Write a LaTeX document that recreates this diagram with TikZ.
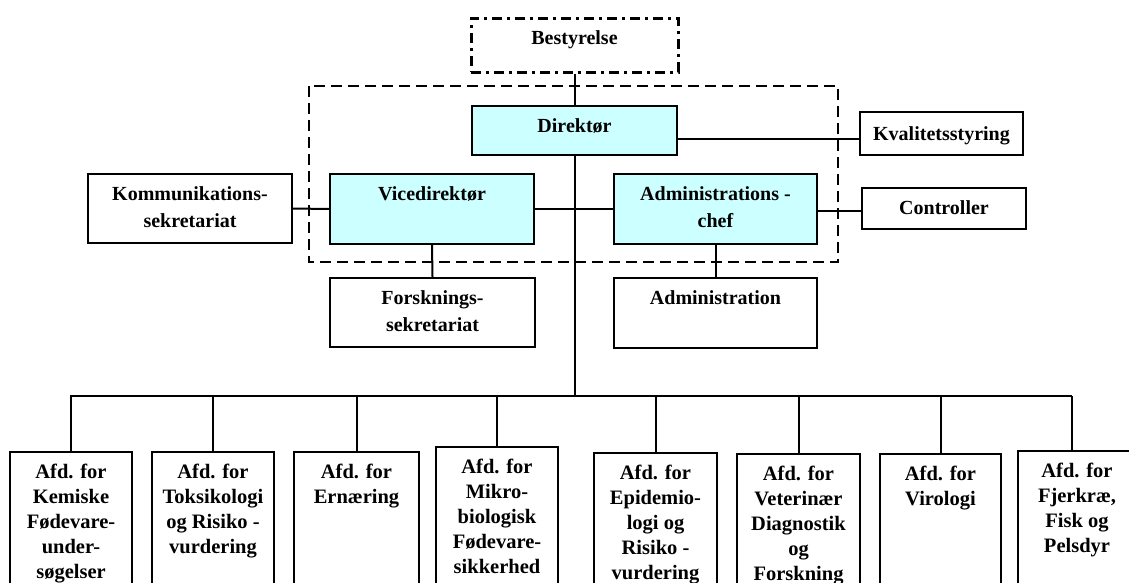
\documentclass[tikz,border=0pt]{standalone}
\usepackage{fontspec}
\setmainfont{Liberation Serif}
\definecolor{leadfill}{HTML}{CCFFFF}
\newcommand{\mylines}[1]{\begin{tabular}[t]{@{}c@{}}#1\end{tabular}}
\begin{document}
\begin{tikzpicture}[x=1pt,y=-1pt,
  box/.style={draw, line width=2pt, font=\fontsize{20}{27.5}\selectfont\bfseries,
    inner sep=0pt, text height=26pt, anchor=north},
  lead/.style={box, fill=leadfill},
  dept/.style={box, font=\fontsize{20.5}{25}\selectfont\bfseries, text height=26pt, text depth=200pt},
  wire/.style={line width=2pt},
  boardline/.style={line width=3pt, dash pattern=on 10pt off 5pt on 3pt off 5pt},
  mgmtline/.style={line width=2.5pt, dash pattern=on 11pt off 6pt}]
\clip (0,0) rectangle (1129,583);
\fill[white] (0,0) rectangle (1129,583);
% management frame
\draw[mgmtline] (309,86) rectangle (838,262);
% nodes
\node[box, boardline, minimum width=207pt, text depth=28pt] (best) at (574.5,17) {Bestyrelse};
\node[lead, minimum width=205pt, text depth=23pt] (dir) at (574.5,105) {Direktør};
\node[box, minimum width=163pt, text height=28pt, text depth=15pt] (kval) at (941.5,111) {Kvalitetsstyring};
\node[lead, minimum width=204pt, text depth=44pt] (vice) at (432,173) {Vicedirektør};
\node[lead, minimum width=203pt, text depth=44pt] (adm) at (715.5,173) {\mylines{Administrations -\\chef}};
\node[box, minimum width=204pt, text depth=43pt] (komm) at (190,173) {\mylines{Kommunikations-\\sekretariat}};
\node[box, minimum width=164pt, text depth=15pt] (ctrl) at (944,187) {Controller};
\node[box, minimum width=205pt, text depth=43pt] (forsk) at (432.5,277) {\mylines{Forsknings-\\sekretariat}};
\node[box, minimum width=203pt, text depth=44pt] (admin) at (715.5,277) {Administration};
% departments
\node[dept, minimum width=122pt] (d1) at (71,451) {\mylines{Afd. for\\Kemiske\\Fødevare-\\under-\\søgelser}};
\node[dept, minimum width=122pt] (d2) at (213,451) {\mylines{Afd. for\\Toksikologi\\og Risiko -\\vurdering}};
\node[dept, minimum width=125pt] (d3) at (356.5,451) {\mylines{Afd. for\\Ernæring}};
\node[dept, minimum width=122pt] (d4) at (497,446) {\mylines{Afd. for\\Mikro-\\biologisk\\Fødevare-\\sikkerhed}};
\node[dept, minimum width=123pt] (d5) at (655.5,452) {\mylines{Afd. for\\Epidemio-\\logi og\\Risiko -\\vurdering}};
\node[dept, minimum width=123pt] (d6) at (798.5,453) {\mylines{Afd. for\\Veterinær\\Diagnostik\\og\\Forskning}};
\node[dept, minimum width=121pt] (d7) at (940.5,453) {\mylines{Afd. for\\Virologi}};
\node[dept, minimum width=118pt] (d8) at (1077,450) {\mylines{Afd. for\\Fjerkræ,\\Fisk og\\Pelsdyr}};
% helper coordinates
\coordinate (busL) at (70,396);
\coordinate (busR) at (1072,396);
\coordinate (kvy) at (0,139);
\coordinate (cty) at (0,211);
% connectors
\draw[wire] (best.south) -- (dir.north);
\draw[wire] (dir.south) -- (dir.south |- busL);
\draw[wire] (dir.east |- kvy) -- (kval.west |- kvy);
\draw[wire] (komm.east) -- (vice.west);
\draw[wire] (vice.east) -- (adm.west);
\draw[wire] (adm.east |- cty) -- (ctrl.west |- cty);
\draw[wire] (vice.south) -- (forsk.north);
\draw[wire] (adm.south) -- (admin.north);
\draw[wire] (busL) -- (busR);
\foreach \d in {d1,d2,d3,d4,d5,d6,d7} {
  \draw[wire] (\d.north |- busL) -- (\d.north);
}
\draw[wire] (busR) -- (busR |- d8.north);
\end{tikzpicture}
\end{document}
